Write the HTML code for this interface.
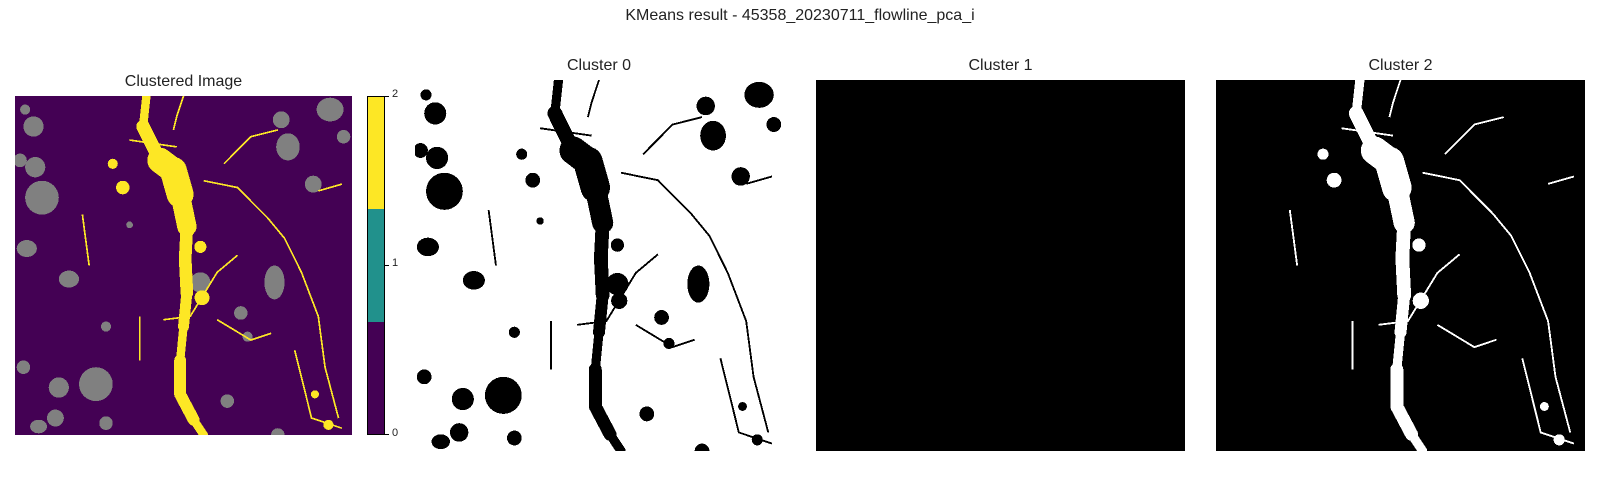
<!DOCTYPE html>
<html><head><meta charset="utf-8"><style>
body{margin:0;background:#fff;width:1600px;height:500px;position:relative;overflow:hidden;font-family:"Liberation Sans","DejaVu Sans",sans-serif;color:#222}
.t{position:absolute;font-size:16px;text-align:center;white-space:nowrap}
svg.p{position:absolute;shape-rendering:crispEdges}
.tk{position:absolute;font-size:11px}
</style></head><body>
<div class="t" style="left:0;width:1600px;top:7px">KMeans result - 45358_20230711_flowline_pca_i</div>
<div class="t" style="left:15px;width:337px;top:73px">Clustered Image</div>
<div class="t" style="left:415px;width:368px;top:57px">Cluster 0</div>
<div class="t" style="left:816px;width:369px;top:57px">Cluster 1</div>
<div class="t" style="left:1216px;width:369px;top:57px">Cluster 2</div>

<svg class="p" id="p0" style="left:15px;top:96px" width="337" height="339" viewBox="0 0 1 1" preserveAspectRatio="none"></svg>
<svg class="p" id="p1" style="left:415px;top:80px" width="368" height="371" viewBox="0 0 1 1" preserveAspectRatio="none"></svg>
<svg class="p" id="p2" style="left:816px;top:80px" width="369" height="371" viewBox="0 0 1 1" preserveAspectRatio="none"></svg>
<svg class="p" id="p3" style="left:1216px;top:80px" width="369" height="371" viewBox="0 0 1 1" preserveAspectRatio="none"></svg>

<div style="position:absolute;left:367px;top:96px;width:16px;height:337px;border:1px solid #000">
 <div style="height:33.33%;background:#fde725"></div>
 <div style="height:33.34%;background:#21918c"></div>
 <div style="height:33.33%;background:#440154"></div>
</div>
<div style="position:absolute;left:385px;top:96px;width:4px;height:1px;background:#000"></div>
<div style="position:absolute;left:385px;top:265px;width:4px;height:1px;background:#000"></div>
<div style="position:absolute;left:385px;top:434px;width:4px;height:1px;background:#000"></div>
<div class="tk" style="left:392px;top:88px">2</div>
<div class="tk" style="left:392px;top:257px">1</div>
<div class="tk" style="left:392px;top:427px">0</div>

<script>
// gray blobs (cluster 1 in clustered image): [cx, cy, rx, ry] normalized
const grayBlobs=[[.08,.30,.05,.05],[.055,.09,.03,.03],[.03,.04,.015,.015],[.015,.19,.02,.02],[.06,.21,.03,.03],[.035,.45,.03,.025],[.16,.54,.03,.025],[.24,.85,.05,.05],[.13,.86,.03,.03],[.12,.95,.025,.025],[.07,.975,.025,.02],[.27,.965,.02,.02],[.935,.04,.04,.035],[.79,.07,.025,.025],[.81,.15,.035,.04],[.885,.26,.025,.025],[.975,.12,.02,.02],[.77,.55,.03,.05],[.67,.64,.02,.02],[.69,.71,.015,.015],[.63,.90,.02,.02],[.34,.38,.01,.01],[.55,.55,.03,.03],[.025,.80,.02,.02],[.27,.68,.015,.015],[.78,1.0,.02,.02]];
// river centerline (cluster 2): [x, y, width]
const riverPts=[[.39,0,.03],[.38,.09,.02],[.43,.19,.06],[.47,.22,.09],[.49,.29,.07],[.51,.385,.045],[.505,.48,.03],[.51,.58,.045],[.50,.68,.02],[.49,.78,.03],[.49,.88,.04],[.53,.955,.03],[.56,1.0,.02]];
// yellow side blobs: [cx, cy, r]
const yellowBlobs=[[.55,.445,.018],[.555,.595,.022],[.29,.2,.015],[.32,.27,.02],[.93,.97,.015],[.89,.88,.012]];
// road polylines (cluster 2 thin features)
const roads=[[[.56,.25],[.66,.27],[.75,.36],[.8,.42],[.85,.52],[.9,.65],[.92,.8],[.96,.95]],[[.34,.13],[.48,.15]],[[.47,.1],[.48,.06],[.5,.0]],[[.37,.65],[.37,.78]],[[.44,.66],[.52,.65],[.6,.52],[.66,.47]],[[.6,.66],[.7,.72],[.76,.70]],[[.2,.35],[.22,.5]],[[.83,.75],[.88,.95],[.97,.98]],[[.62,.2],[.7,.12],[.78,.1]],[[.9,.28],[.97,.26]]];
const panels=[{id:'p0',bg:'#440154',gray:'#808080',yel:'#fde725'},{id:'p1',bg:'#fff',gray:'#000',yel:'#000'},{id:'p2',bg:'#000',gray:'#000',yel:'#000'},{id:'p3',bg:'#000',gray:'#000',yel:'#fff'}];
const NS='http://www.w3.org/2000/svg';
function mk(svg,tag,attrs,name){const e=document.createElementNS(NS,tag);for(const k in attrs)e.setAttribute(k,attrs[k]);


svg.appendChild(e);return e;}
panels.forEach(p=>{
 const s=document.getElementById(p.id);
 mk(s,'rect',{x:0,y:0,width:1,height:1,fill:p.bg},'background');
 grayBlobs.forEach(b=>mk(s,'ellipse',{cx:b[0],cy:b[1],rx:b[2],ry:b[3],fill:p.gray},'gray-blob'));
 for(let i=0;i<riverPts.length-1;i++){const a=riverPts[i],b=riverPts[i+1];
  mk(s,'line',{x1:a[0],y1:a[1],x2:b[0],y2:b[1],stroke:p.yel,'stroke-width':(a[2]+b[2])/2,'stroke-linecap':'round'},'river-segment');}
 yellowBlobs.forEach(b=>mk(s,'circle',{cx:b[0],cy:b[1],r:b[2],fill:p.yel},'yellow-blob'));
 roads.forEach(r=>mk(s,'polyline',{points:r.map(q=>q.join(',')).join(' '),fill:'none',stroke:p.yel,'stroke-width':.005},'road'));
});
</script>
</body></html>
